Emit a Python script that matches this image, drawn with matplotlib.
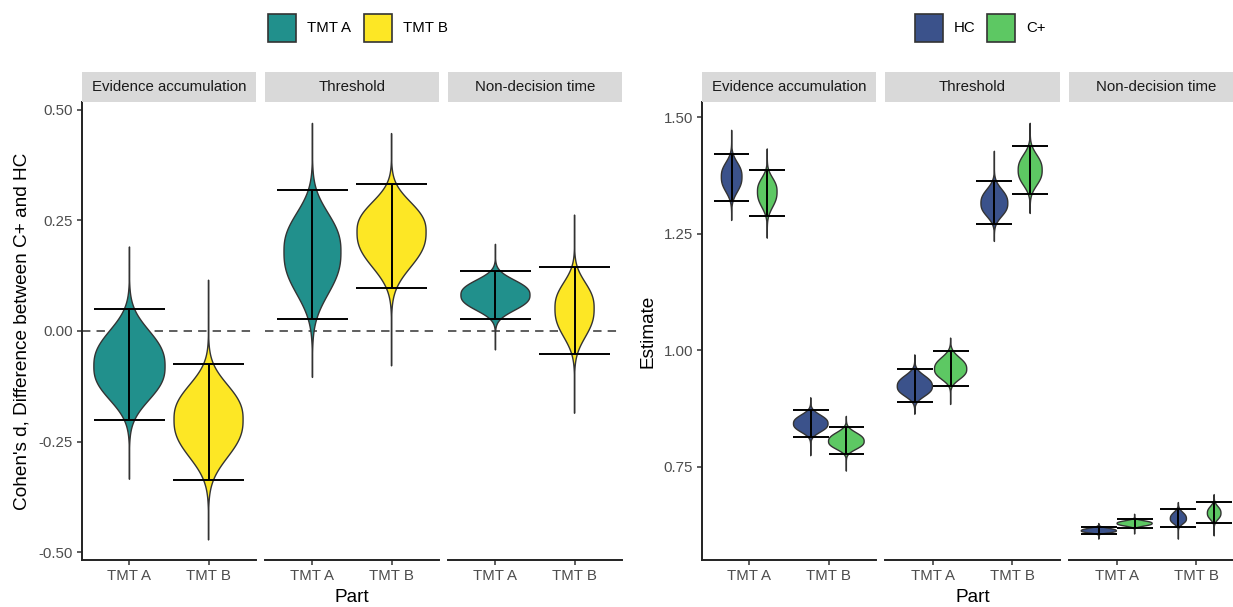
import numpy as np
import matplotlib
matplotlib.use("Agg")
import matplotlib.pyplot as plt
from matplotlib.patches import Rectangle

plt.rcParams['font.family'] = ['Liberation Sans', 'DejaVu Sans']

measures = ["Evidence accumulation", "Threshold", "Non-decision time"]
parts = ["TMT A", "TMT B"]
groups = ["HC", "C+"]

# Cohen's d (C+ vs HC) posterior summaries, [measure][part]
d_mode = [[-0.080, -0.200], [0.179, 0.224], [0.081, 0.051]]
d_lower = [[-0.201, -0.336], [0.026, 0.096], [0.026, -0.052]]
d_upper = [[0.049, -0.075], [0.318, 0.331], [0.135, 0.144]]
d_min = [[-0.335, -0.472], [-0.105, -0.079], [-0.043, -0.186]]
d_max = [[0.190, 0.115], [0.469, 0.446], [0.196, 0.262]]
d_peak = [[1.00, 0.97], [0.80, 0.97], [0.97, 0.55]]   # relative density peak

# group estimates, [measure][part][group]
est_mode = [[[1.372, 1.340], [0.842, 0.804]],
            [[0.922, 0.959], [1.315, 1.386]],
            [[0.612, 0.628], [0.638, 0.650]]]
est_lower = [[[1.320, 1.287], [0.813, 0.777]],
             [[0.888, 0.924], [1.270, 1.334]],
             [[0.605, 0.619], [0.620, 0.628]]]
est_upper = [[[1.421, 1.387], [0.872, 0.834]],
             [[0.959, 0.999], [1.363, 1.439]],
             [[0.621, 0.637], [0.660, 0.673]]]
est_min = [[[1.278, 1.240], [0.773, 0.740]],
           [[0.862, 0.883], [1.233, 1.293]],
           [[0.594, 0.605], [0.594, 0.601]]]
est_max = [[[1.472, 1.432], [0.898, 0.858]],
           [[0.990, 1.026], [1.427, 1.487]],
           [[0.628, 0.648], [0.673, 0.690]]]
est_peak = [[[0.58, 0.55], [0.97, 1.00]],
            [[0.98, 0.90], [0.75, 0.67]],
            [[0.98, 0.98], [0.45, 0.38]]]

part_colors = ["#21908C", "#FDE725"]
group_colors = ["#3B528B", "#5DC863"]

W, H = 1233, 607
fig = plt.figure(figsize=(W / 100, H / 100), dpi=100)


def px_axes(x0, x1, y0, y1):
    return fig.add_axes([x0 / W, 1 - y1 / H, (x1 - x0) / W, (y1 - y0) / H])


def violin(ax, pos, mode, lo, hi, vmin, vmax, peak, max_width, color):
    # two-sided profile built from the interval, clipped to the sample range;
    # a slightly flatter-than-normal shoulder with thin tails
    sl = (mode - lo) / 1.96
    su = (hi - mode) / 1.96
    y = np.linspace(vmin, vmax, 400)
    z = np.where(y < mode, (y - mode) / sl, (y - mode) / su)
    hw = 0.5 * max_width * peak * np.exp(-(np.abs(z) / 1.51) ** 2.5)
    xs = np.concatenate([pos - hw, (pos + hw)[::-1]])
    ys = np.concatenate([y, y[::-1]])
    ax.fill(xs, ys, facecolor=color, edgecolor="#333333", lw=1.0, zorder=2)


def errbar(ax, pos, lo, hi, width):
    ax.vlines(pos, lo, hi, color="black", lw=1.4, zorder=3)
    ax.hlines([lo, hi], pos - width / 2, pos + width / 2, color="black", lw=1.4, zorder=3)


def style_facet(ax, first, ylim, yticks, ylabels, title, strip_x):
    ax.set_xlim(0.4, 2.6)
    ax.set_ylim(*ylim)
    ax.set_xticks([1, 2])
    ax.set_xticklabels(parts)
    for s in ["top", "right"]:
        ax.spines[s].set_visible(False)
    ax.spines["bottom"].set_linewidth(1.4)
    ax.spines["bottom"].set_color("#222222")
    ax.tick_params(axis="both", length=3.5, width=1.1, color="#333333",
                   labelsize=10.8, labelcolor="#4D4D4D", pad=3)
    if first:
        ax.spines["left"].set_linewidth(1.4)
        ax.spines["left"].set_color("#222222")
        ax.set_yticks(yticks)
        ax.set_yticklabels(ylabels)
    else:
        ax.spines["left"].set_visible(False)
        ax.set_yticks([])
    sax = px_axes(strip_x[0], strip_x[1], 72, 102)
    sax.set_facecolor("#D9D9D9")
    sax.set_xticks([])
    sax.set_yticks([])
    for s in sax.spines.values():
        s.set_visible(False)
    sax.text(0.5, 0.5, title, ha="center", va="center", fontsize=10.8,
             color="#1A1A1A", transform=sax.transAxes)


def legend(items, colors, keys_x, text_x):
    for lab, col, kx, tx in zip(items, colors, keys_x, text_x):
        fig.patches.append(Rectangle((kx / W, 1 - 42 / H), 28 / W, 28 / H,
                                     facecolor=col, edgecolor="#333333", lw=1.2,
                                     transform=fig.transFigure, figure=fig))
        fig.text(tx / W, 1 - 28 / H, lab, ha="left", va="center", fontsize=10.8)


# left panel: Cohen's d
left_x = [(82, 256), (265, 439), (448, 622)]
for m, (x0, x1) in enumerate(left_x):
    ax = px_axes(x0, x1, 102, 560)
    ax.axhline(0, color="#333333", lw=1.1, ls=(0, (5.5, 4)), zorder=1)
    for p in range(2):
        violin(ax, p + 1, d_mode[m][p], d_lower[m][p], d_upper[m][p],
               d_min[m][p], d_max[m][p], d_peak[m][p], 0.9, part_colors[p])
        errbar(ax, p + 1, d_lower[m][p], d_upper[m][p], 0.9)
    style_facet(ax, m == 0, (-0.517, 0.517), [-0.5, -0.25, 0, 0.25, 0.5],
                ["-0.50", "-0.25", "0.00", "0.25", "0.50"], measures[m], (x0, x1))

# right panel: group estimates
right_x = [(702, 876), (885, 1060), (1069, 1244)]
for m, (x0, x1) in enumerate(right_x):
    ax = px_axes(x0, x1, 102, 560)
    for p in range(2):
        for g, off in enumerate([-0.225, 0.225]):
            pos = p + 1 + off
            violin(ax, pos, est_mode[m][p][g], est_lower[m][p][g], est_upper[m][p][g],
                   est_min[m][p][g], est_max[m][p][g], est_peak[m][p][g], 0.45,
                   group_colors[g])
            errbar(ax, pos, est_lower[m][p][g], est_upper[m][p][g], 0.45)
    style_facet(ax, m == 0, (0.5495, 1.5325), [0.75, 1.0, 1.25, 1.5],
                ["0.75", "1.00", "1.25", "1.50"], measures[m], (x0, x1))

fig.text(22 / W, 1 - 331 / H, "Cohen's d, Difference between C+ and HC",
         rotation=90, ha="center", va="center", fontsize=13.7)
fig.text(648 / W, 1 - 331 / H, "Estimate", rotation=90, ha="center",
         va="center", fontsize=13.7)
fig.text(352 / W, 1 - 598 / H, "Part", ha="center", va="center", fontsize=13.7)
fig.text(973 / W, 1 - 598 / H, "Part", ha="center", va="center", fontsize=13.7)

legend(parts, part_colors, [268, 364], [307, 403])
legend(groups, group_colors, [915, 987], [954, 1026])

fig.savefig("out.png", dpi=100)
